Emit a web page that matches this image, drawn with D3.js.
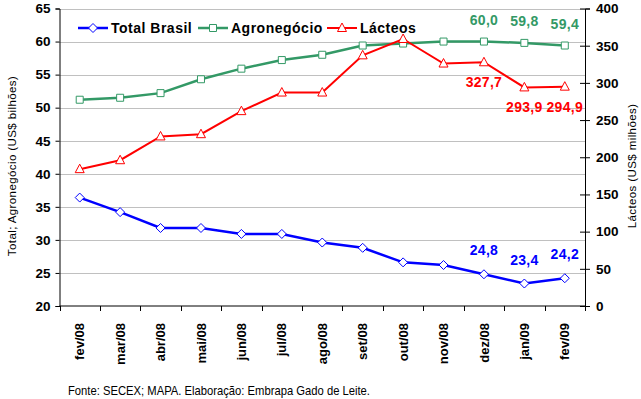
<!DOCTYPE html>
<html>
<head>
<meta charset="utf-8">
<script src="https://cdn.jsdelivr.net/npm/d3@7"></script>
<style>
  body { margin: 0; background: #fff; }
  svg { display: block; font-family: "Liberation Sans", Arial, sans-serif; }
</style>
</head>
<body>
<svg id="chart" width="641" height="399"></svg>
<script>
const months = ['fev/08', 'mar/08', 'abr/08', 'mai/08', 'jun/08', 'jul/08', 'ago/08',
                'set/08', 'out/08', 'nov/08', 'dez/08', 'jan/09', 'fev/09'];
const totalBrasil = [36.4, 34.2, 31.8, 31.8, 30.9, 30.9, 29.6, 28.8, 26.6, 26.2, 24.8, 23.4, 24.2];
const agronegocio = [51.2, 51.5, 52.2, 54.3, 55.9, 57.2, 58.0, 59.4, 59.7, 60.0, 60.0, 59.8, 59.4];
const lacteos = [184, 196, 228, 231, 262, 287, 287, 337, 359, 326, 327.7, 293.9, 294.9];
const leftTicks = [20, 25, 30, 35, 40, 45, 50, 55, 60, 65];
const rightTicks = [0, 50, 100, 150, 200, 250, 300, 350, 400];
// last three months get value labels
const labelledMonths = ['dez/08', 'jan/09', 'fev/09'];

const svg = d3.select('#chart');
const plotLeft = 59.5, plotRight = 585, plotTop = 8.5, plotBottom = 306;

const x = d3.scaleBand().domain(months).range([plotLeft, plotRight]);
const yLeft = d3.scaleLinear().domain([20, 65]).range([plotBottom, plotTop]);
const yRight = d3.scaleLinear().domain([0, 400]).range([plotBottom, plotTop]);
const cx = d => x(d) + x.bandwidth() / 2;

const fmt = v => d3.format('.1f')(v).replace('.', ',');

// gridlines
svg.append('g')
    .selectAll('line')
    .data(leftTicks.slice(1))
    .join('line')
    .attr('x1', plotLeft).attr('x2', plotRight)
    .attr('y1', d => Math.round(yLeft(d)) + 0.5)
    .attr('y2', d => Math.round(yLeft(d)) + 0.5)
    .style('stroke', '#c0c0c0')
    .style('stroke-width', 1);

// left axis
const gLeft = svg.append('g')
    .attr('transform', `translate(${plotLeft},0)`)
    .call(d3.axisLeft(yLeft).tickValues(leftTicks).tickSize(4).tickPadding(5));
gLeft.selectAll('text').style('font-size', '13.5px').style('font-weight', 'bold').style('fill', '#000');

// right axis, ticks cross the line
const gRight = svg.append('g')
    .attr('transform', `translate(${plotRight},0)`)
    .call(d3.axisRight(yRight).tickValues(rightTicks).tickSize(5).tickPadding(6));
gRight.selectAll('.tick line').attr('x1', -5);
gRight.selectAll('text').style('font-size', '13.5px').style('font-weight', 'bold').style('fill', '#000');

// bottom axis: ticks at band edges, labels rotated
svg.append('line')
    .attr('x1', plotLeft).attr('x2', plotRight).attr('y1', plotBottom).attr('y2', plotBottom)
    .style('stroke', '#000');
svg.append('g')
    .selectAll('line')
    .data(months.map(m => x(m)).concat([plotRight]))
    .join('line')
    .attr('x1', d => Math.round(d) + 0.5).attr('x2', d => Math.round(d) + 0.5)
    .attr('y1', plotBottom).attr('y2', plotBottom + 5)
    .style('stroke', '#000');
svg.append('g')
    .selectAll('text')
    .data(months)
    .join('text')
    .attr('transform', d => `translate(${cx(d)},323) rotate(-90)`)
    .attr('dy', '0.35em')
    .attr('text-anchor', 'end')
    .style('font-size', '13px')
    .style('font-weight', 'bold')
    .text(d => d);

[gLeft, gRight].forEach(g => g.select('.domain').style('stroke', '#000'));

// axis titles
svg.append('text')
    .attr('transform', 'translate(16,166) rotate(-90)')
    .attr('text-anchor', 'middle')
    .style('font-size', '11.5px')
    .style('letter-spacing', '0.4px')
    .text('Total; Agronegócio (US$ bilhões)');
svg.append('text')
    .attr('transform', 'translate(636,166) rotate(-90)')
    .attr('text-anchor', 'middle')
    .style('font-size', '11.5px')
    .style('letter-spacing', '0.4px')
    .text('Lácteos (US$ milhões)');

// series
const series = [
    { name: 'Total Brasil', values: totalBrasil, y: yLeft, color: '#0000ff', width: 2.5, marker: 'diamond', labelDy: -19 },
    { name: 'Agronegócio', values: agronegocio, y: yLeft, color: '#339966', width: 2.5, marker: 'square', labelDy: -17 },
    { name: 'Lácteos', values: lacteos, y: yRight, color: '#ff0000', width: 2, marker: 'triangle', labelDy: 25 }
];

function markerPath(kind) {
    if (kind === 'diamond') return 'M0,-4.5L4.5,0L0,4.5L-4.5,0Z';
    if (kind === 'square') return 'M-3.5,-3.5H3.5V3.5H-3.5Z';
    return 'M0,-5L4.5,3.5H-4.5Z';
}

series.forEach(s => {
    const pts = months.map((m, i) => [cx(m), s.y(s.values[i])]);
    svg.append('path')
        .attr('d', d3.line()(pts))
        .style('fill', 'none')
        .style('stroke', s.color)
        .style('stroke-width', s.width);
    svg.append('g')
        .selectAll('path')
        .data(pts)
        .join('path')
        .attr('transform', d => `translate(${d[0]},${d[1]})`)
        .attr('d', markerPath(s.marker))
        .style('fill', '#fff')
        .style('stroke', s.color)
        .style('stroke-width', 1);
    svg.append('g')
        .selectAll('text')
        .data(labelledMonths)
        .join('text')
        .attr('x', d => cx(d))
        .attr('y', d => s.y(s.values[months.indexOf(d)]) + s.labelDy)
        .attr('text-anchor', 'middle')
        .style('font-size', '14px')
        .style('font-weight', 'bold')
        .style('letter-spacing', '0.3px')
        .style('fill', s.color)
        .text(d => fmt(s.values[months.indexOf(d)]));
});

// legend
const legendX = [78, 198, 327];
series.forEach((s, i) => {
    const g = svg.append('g').attr('transform', `translate(${legendX[i]},28)`);
    g.append('line').attr('x1', 0).attr('x2', 30)
        .style('stroke', s.color).style('stroke-width', s.width);
    g.append('path').attr('transform', 'translate(15,0)').attr('d', markerPath(s.marker))
        .style('fill', '#fff').style('stroke', s.color);
    g.append('text').attr('x', 33).attr('y', 4.5)
        .style('font-size', '14px').style('font-weight', 'bold')
        .style('letter-spacing', '0.5px')
        .text(s.name);
});

// source, set in a condensed face
svg.append('text')
    .attr('x', 68).attr('y', 395)
    .attr('textLength', 302)
    .attr('lengthAdjust', 'spacingAndGlyphs')
    .style('font-size', '13.5px')
    .text('Fonte: SECEX; MAPA. Elaboração: Embrapa Gado de Leite.');
</script>
</body>
</html>
